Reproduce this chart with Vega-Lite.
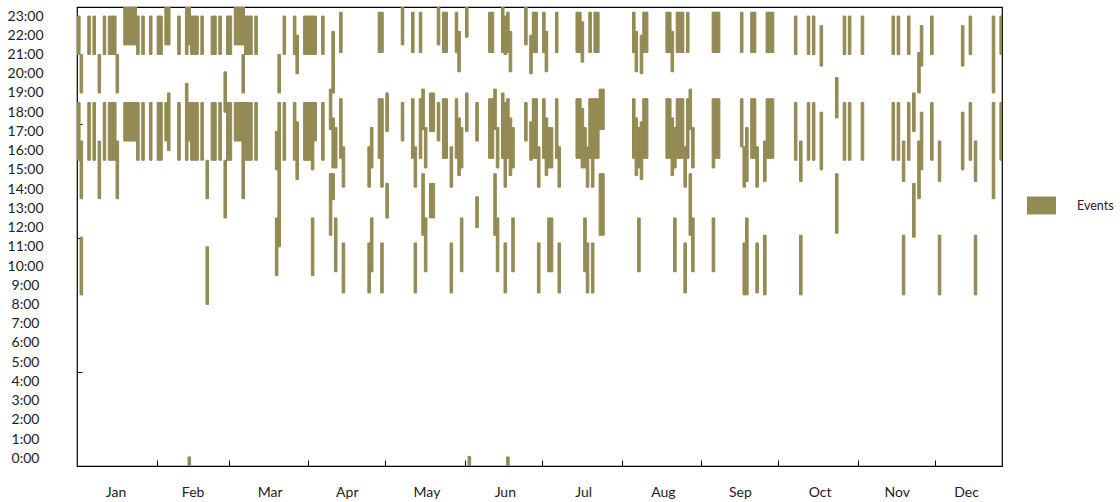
{
 "$schema": "https://vega.github.io/schema/vega-lite/v6.json",
 "width": 925, "height": 459,
 "autosize": {"type": "none"},
 "padding": {"left": 77, "top": 7, "right": 118, "bottom": 36},
 "background": "white",
 "config": {"view": {"stroke": "#000", "strokeWidth": 1.2}, "font": "Lato"},
 "datasets": {"ev": [
  {"d":0,"s":21,"e":23},{"d":0,"s":15.5,"e":18.5},
  {"d":1,"s":19,"e":21},{"d":1,"s":13.5,"e":16.5},{"d":1,"s":8.5,"e":11.5},
  {"d":4,"s":21,"e":23},{"d":4,"s":15.5,"e":18.5},
  {"d":6,"s":21,"e":23},{"d":6,"s":15.5,"e":18.5},
  {"d":8,"s":19,"e":21},{"d":8,"s":13.5,"e":16.5},
  {"d":10,"s":21,"e":23},{"d":10,"s":15.5,"e":18.5},
  {"d":12,"s":21,"e":23},{"d":12,"s":15.5,"e":18.5},
  {"d":13,"s":21,"e":23},{"d":13,"s":15.5,"e":18.5},
  {"d":14,"s":21,"e":23},{"d":14,"s":15.5,"e":18.5},
  {"d":15,"s":19,"e":21},{"d":15,"s":13.5,"e":16.5},
  {"d":18,"s":21.5,"e":24},{"d":18,"s":16.5,"e":18.5},
  {"d":19,"s":21.5,"e":24},{"d":19,"s":16.5,"e":18.5},
  {"d":20,"s":21.5,"e":24},{"d":20,"s":16.5,"e":18.5},
  {"d":21,"s":21.5,"e":24},{"d":21,"s":16.5,"e":18.5},
  {"d":22,"s":21.5,"e":24},{"d":22,"s":16.5,"e":18.5},
  {"d":23,"s":21,"e":23},{"d":23,"s":15.5,"e":18.5},
  {"d":25,"s":21,"e":23},{"d":25,"s":15.5,"e":18.5},
  {"d":28,"s":21,"e":23},{"d":28,"s":15.5,"e":18.5},
  {"d":31,"s":21,"e":23},{"d":31,"s":15.5,"e":18.5},
  {"d":32,"s":21,"e":23},{"d":32,"s":15.5,"e":18.5},
  {"d":34,"s":21.5,"e":24},{"d":34,"s":16.5,"e":18.5},
  {"d":35,"s":21.5,"e":24},{"d":35,"s":16,"e":19},
  {"d":39,"s":21,"e":23},{"d":39,"s":15.5,"e":18.5},
  {"d":42,"s":21,"e":24},{"d":42,"s":15.5,"e":19.5},
  {"d":43,"s":21.5,"e":24},{"d":43,"s":16.5,"e":18.5},{"d":43,"s":-0.5,"e":0.07},
  {"d":44,"s":21,"e":23},{"d":44,"s":15.5,"e":18.5},
  {"d":45,"s":21,"e":23},{"d":45,"s":15.5,"e":18.5},
  {"d":46,"s":21,"e":23},{"d":46,"s":15.5,"e":18.5},
  {"d":48,"s":21,"e":23},{"d":48,"s":15.5,"e":18.5},
  {"d":50,"s":13.5,"e":15.5},{"d":50,"s":8,"e":11},
  {"d":52,"s":21,"e":23},{"d":52,"s":15.5,"e":18.5},
  {"d":53,"s":21,"e":23},{"d":53,"s":15.5,"e":18.5},
  {"d":55,"s":21,"e":23},{"d":55,"s":15.5,"e":18.5},
  {"d":57,"s":18,"e":20.1},{"d":57,"s":12.5,"e":15.5},
  {"d":58,"s":21,"e":23},{"d":58,"s":15.5,"e":18.5},
  {"d":59,"s":21,"e":23},{"d":59,"s":15.5,"e":18.5},
  {"d":61,"s":21.5,"e":24},{"d":61,"s":16.5,"e":18.5},
  {"d":62,"s":21.5,"e":24},{"d":62,"s":16.5,"e":18.5},
  {"d":63,"s":21.5,"e":24},{"d":63,"s":16.5,"e":18.5},
  {"d":64,"s":21.5,"e":24},{"d":64,"s":19,"e":21},{"d":64,"s":13.5,"e":18.5},
  {"d":65,"s":21,"e":23},{"d":65,"s":15.5,"e":18.5},
  {"d":66,"s":21,"e":23},{"d":66,"s":15.5,"e":18.5},
  {"d":67,"s":21,"e":23},{"d":67,"s":15.5,"e":18.5},
  {"d":69,"s":21,"e":23},{"d":69,"s":15.5,"e":18.5},
  {"d":77,"s":15,"e":17},{"d":77,"s":9.5,"e":12.5},
  {"d":78,"s":19,"e":21},{"d":78,"s":11,"e":18.5},
  {"d":80,"s":21,"e":23},{"d":80,"s":15.5,"e":18.5},
  {"d":84,"s":21,"e":23},{"d":84,"s":15.5,"e":18.5},
  {"d":85,"s":20,"e":22},{"d":85,"s":14.5,"e":17.5},
  {"d":88,"s":21,"e":23},{"d":88,"s":15.5,"e":18.5},
  {"d":89,"s":21,"e":23},{"d":89,"s":15.5,"e":18.5},
  {"d":90,"s":21,"e":23},{"d":90,"s":15.5,"e":18.5},
  {"d":91,"s":21,"e":23},{"d":91,"s":15,"e":18.5},{"d":91,"s":9.5,"e":12.5},
  {"d":92,"s":21,"e":23},{"d":92,"s":16.5,"e":18.5},
  {"d":95,"s":21,"e":23},{"d":95,"s":15.5,"e":18.5},
  {"d":98,"s":17.1,"e":19.2},{"d":98,"s":11.6,"e":14.8},
  {"d":99,"s":19,"e":22.2},{"d":99,"s":15.1,"e":17.7},{"d":99,"s":13.45,"e":14.8},
  {"d":100,"s":15.1,"e":17.2},{"d":100,"s":9.7,"e":12.5},
  {"d":102,"s":21.1,"e":23.2},{"d":102,"s":15.6,"e":18.7},
  {"d":103,"s":14.1,"e":16.2},{"d":103,"s":8.6,"e":11.2},
  {"d":113,"s":14.1,"e":16.2},{"d":113,"s":8.6,"e":11.2},
  {"d":114,"s":15.1,"e":17.2},{"d":114,"s":9.7,"e":12.5},
  {"d":117,"s":21.1,"e":23.2},{"d":117,"s":15.6,"e":18.7},
  {"d":118,"s":21.1,"e":23.2},{"d":118,"s":14.1,"e":18.7},{"d":118,"s":8.6,"e":11.2},
  {"d":120,"s":17,"e":19},{"d":120,"s":12.5,"e":14.3},
  {"d":126,"s":21.5,"e":24},{"d":126,"s":16.5,"e":18.5},
  {"d":130,"s":21.1,"e":23.2},{"d":130,"s":15.6,"e":18.7},
  {"d":131,"s":14.1,"e":16.2},{"d":131,"s":8.6,"e":11.2},
  {"d":133,"s":21.1,"e":23.2},{"d":133,"s":15.6,"e":18.7},
  {"d":134,"s":17.1,"e":19.2},{"d":134,"s":11.6,"e":14.8},
  {"d":135,"s":15.1,"e":17.2},{"d":135,"s":9.7,"e":12.5},
  {"d":137,"s":17,"e":19},{"d":137,"s":12.5,"e":14.3},
  {"d":138,"s":17,"e":19},{"d":138,"s":12.5,"e":14.3},
  {"d":140,"s":21.5,"e":24},{"d":140,"s":16.5,"e":18.5},
  {"d":142,"s":21.1,"e":23.2},{"d":142,"s":15.6,"e":18.7},
  {"d":143,"s":21.1,"e":23.2},{"d":143,"s":15.6,"e":18.7},
  {"d":145,"s":14.1,"e":16.2},{"d":145,"s":8.6,"e":11.2},
  {"d":147,"s":21.1,"e":23.2},{"d":147,"s":15.6,"e":18.7},
  {"d":148,"s":20.1,"e":22.2},{"d":148,"s":14.7,"e":17.7},
  {"d":149,"s":15.1,"e":17.2},{"d":149,"s":9.7,"e":12.5},
  {"d":151,"s":21.9,"e":24},{"d":151,"s":17,"e":19},
  {"d":152,"s":-0.5,"e":0.1},
  {"d":155,"s":16.5,"e":18.5},{"d":155,"s":12,"e":13.6},
  {"d":160,"s":21.1,"e":23.2},{"d":160,"s":15.6,"e":18.7},
  {"d":161,"s":21.1,"e":23.2},{"d":161,"s":15.6,"e":18.7},
  {"d":162,"s":17.1,"e":19.2},{"d":162,"s":11.6,"e":14.8},
  {"d":163,"s":15.1,"e":17.2},{"d":163,"s":9.7,"e":12.5},
  {"d":165,"s":21.1,"e":24},{"d":165,"s":15.6,"e":19},
  {"d":166,"s":21,"e":23},{"d":166,"s":14.1,"e":18.5},{"d":166,"s":8.6,"e":11.2},
  {"d":167,"s":21.1,"e":23.2},{"d":167,"s":15.6,"e":18.7},{"d":167,"s":-0.5,"e":0.07},
  {"d":168,"s":20.1,"e":22.2},{"d":168,"s":14.7,"e":17.7},
  {"d":169,"s":15.1,"e":17.2},{"d":169,"s":9.7,"e":12.5},
  {"d":174,"s":21.5,"e":24},{"d":174,"s":16.5,"e":18.5},
  {"d":176,"s":20,"e":22},{"d":176,"s":15.5,"e":17.5},
  {"d":177,"s":21.1,"e":23.2},{"d":177,"s":15.6,"e":18.7},
  {"d":178,"s":21.1,"e":23.2},{"d":178,"s":15.6,"e":18.7},
  {"d":179,"s":14.1,"e":16.2},{"d":179,"s":8.6,"e":11.2},
  {"d":181,"s":21.1,"e":23.2},{"d":181,"s":15.6,"e":18.7},
  {"d":182,"s":20.1,"e":22.2},{"d":182,"s":14.7,"e":17.7},
  {"d":183,"s":15.1,"e":17.2},{"d":183,"s":9.7,"e":12.5},
  {"d":184,"s":15.1,"e":17.2},{"d":184,"s":9.7,"e":12.5},
  {"d":186,"s":21.1,"e":23.2},{"d":186,"s":15.6,"e":18.7},
  {"d":187,"s":14.1,"e":16.2},{"d":187,"s":8.6,"e":11.2},
  {"d":194,"s":21.1,"e":23.2},{"d":194,"s":15.6,"e":18.7},
  {"d":195,"s":21.1,"e":23.2},{"d":195,"s":15.6,"e":18.7},
  {"d":196,"s":20.6,"e":22.7},{"d":196,"s":15.1,"e":18.2},
  {"d":197,"s":15.1,"e":17.2},{"d":197,"s":9.7,"e":12.5},
  {"d":198,"s":14.1,"e":16.2},{"d":198,"s":8.6,"e":11.2},
  {"d":199,"s":21.1,"e":23.2},{"d":199,"s":15.6,"e":18.7},
  {"d":200,"s":14.1,"e":18.7},{"d":200,"s":8.6,"e":11.2},
  {"d":201,"s":21.1,"e":23.2},{"d":201,"s":15.6,"e":18.7},
  {"d":202,"s":21.1,"e":23.2},{"d":202,"s":15.6,"e":18.7},
  {"d":203,"s":17.1,"e":19.2},{"d":203,"s":11.6,"e":14.8},
  {"d":204,"s":17.1,"e":19.2},{"d":204,"s":11.6,"e":14.8},
  {"d":216,"s":21.1,"e":23.2},{"d":216,"s":15.6,"e":18.7},
  {"d":217,"s":20.1,"e":22.2},{"d":217,"s":14.7,"e":17.7},
  {"d":218,"s":15.1,"e":17.2},{"d":218,"s":9.7,"e":12.5},
  {"d":219,"s":20,"e":22},{"d":219,"s":14.5,"e":17.5},
  {"d":220,"s":21.1,"e":23.2},{"d":220,"s":15.6,"e":18.7},
  {"d":221,"s":21.1,"e":23.2},{"d":221,"s":15.6,"e":18.7},
  {"d":229,"s":21.1,"e":23.2},{"d":229,"s":15.6,"e":18.7},
  {"d":230,"s":21.1,"e":23.2},{"d":230,"s":15.6,"e":18.7},
  {"d":231,"s":20.1,"e":22.2},{"d":231,"s":14.7,"e":17.7},
  {"d":232,"s":15.1,"e":17.2},{"d":232,"s":9.7,"e":12.5},
  {"d":233,"s":21.1,"e":23.2},{"d":233,"s":15.6,"e":18.7},
  {"d":234,"s":21.1,"e":23.2},{"d":234,"s":15.6,"e":18.7},
  {"d":235,"s":21.1,"e":23.2},{"d":235,"s":15.6,"e":18.7},
  {"d":236,"s":14.1,"e":16.2},{"d":236,"s":8.6,"e":11.2},
  {"d":237,"s":21.1,"e":23.2},{"d":237,"s":15.6,"e":18.7},
  {"d":238,"s":17.1,"e":19.2},{"d":238,"s":11.6,"e":14.8},
  {"d":239,"s":15.1,"e":17.2},{"d":239,"s":9.7,"e":12.5},
  {"d":247,"s":21.1,"e":23.2},{"d":247,"s":15.1,"e":18.7},{"d":247,"s":9.7,"e":12.5},
  {"d":248,"s":21.1,"e":23.2},{"d":248,"s":15.6,"e":18.7},
  {"d":249,"s":21.1,"e":23.2},{"d":249,"s":15.6,"e":18.7},
  {"d":258,"s":21.1,"e":23.2},{"d":258,"s":16.2,"e":18.7},
  {"d":259,"s":14.1,"e":16.2},{"d":259,"s":8.5,"e":11.2},
  {"d":260,"s":14.4,"e":17.2},{"d":260,"s":8.5,"e":12.5},
  {"d":262,"s":21.1,"e":23.2},{"d":262,"s":15.6,"e":18.7},
  {"d":263,"s":21.1,"e":23.2},{"d":263,"s":15.6,"e":18.7},
  {"d":264,"s":14.1,"e":16.2},{"d":264,"s":8.6,"e":11.2},
  {"d":267,"s":14.4,"e":16.5},{"d":267,"s":8.5,"e":11.6},
  {"d":268,"s":21.1,"e":23.2},{"d":268,"s":15.6,"e":18.7},
  {"d":269,"s":21.1,"e":23.2},{"d":269,"s":15.6,"e":18.7},
  {"d":270,"s":21.1,"e":23.2},{"d":270,"s":15.6,"e":18.7},
  {"d":279,"s":21,"e":23},{"d":279,"s":15.5,"e":18.5},
  {"d":281,"s":14.4,"e":16.5},{"d":281,"s":8.5,"e":11.6},
  {"d":284,"s":21,"e":23},{"d":284,"s":15.5,"e":18.5},
  {"d":286,"s":21,"e":23},{"d":286,"s":15.5,"e":18.5},
  {"d":289,"s":20.4,"e":22.5},{"d":289,"s":15,"e":18},
  {"d":295,"s":17.7,"e":19.8},{"d":295,"s":11.7,"e":14.8},
  {"d":298,"s":21,"e":23},{"d":298,"s":15.5,"e":18.5},
  {"d":300,"s":21,"e":23},{"d":300,"s":15.5,"e":18.5},
  {"d":305,"s":21,"e":23},{"d":305,"s":15.5,"e":18.5},
  {"d":317,"s":21,"e":23},{"d":317,"s":15.5,"e":18.5},
  {"d":319,"s":21,"e":23},{"d":319,"s":15.5,"e":18.5},
  {"d":321,"s":14.4,"e":16.5},{"d":321,"s":8.5,"e":11.6},
  {"d":323,"s":21,"e":23},{"d":323,"s":15.5,"e":18.5},
  {"d":325,"s":17,"e":19},{"d":325,"s":11.5,"e":14.3},
  {"d":327,"s":19,"e":21.1},{"d":327,"s":13.5,"e":16.5},
  {"d":328,"s":20.4,"e":22.5},{"d":328,"s":15,"e":18},
  {"d":332,"s":21,"e":23},{"d":332,"s":15.5,"e":18.5},
  {"d":335,"s":14.4,"e":16.5},{"d":335,"s":8.5,"e":11.6},
  {"d":344,"s":20.4,"e":22.5},{"d":344,"s":15,"e":18},
  {"d":347,"s":21,"e":23},{"d":347,"s":15.5,"e":18.5},
  {"d":349,"s":14.4,"e":16.5},{"d":349,"s":8.5,"e":11.6},
  {"d":356,"s":19,"e":23},{"d":356,"s":13.5,"e":18.5},
  {"d":359,"s":21,"e":23},{"d":359,"s":15.5,"e":18.5}
 ]},
 "layer": [
  {
   "data": {"name": "ev"},
   "mark": {"type": "bar", "clip": true, "binSpacing": 0, "stroke": "#948A54", "strokeWidth": 1},
   "encoding": {
    "x": {"field": "d", "type": "quantitative", "bin": {"step": 1, "extent": [0, 360]},
      "scale": {"domain": [0, 360], "nice": false, "zero": false},
      "axis": {"values": [15, 45, 75, 105, 136, 166.5, 197, 228, 258, 289, 319, 346],
        "labelExpr": "['Jan','Feb','Mar','Apr','May','Jun','Jul','Aug','Sep','Oct','Nov','Dec'][floor(datum.value/30.4)]",
        "ticks": false, "tickSize": 0, "domain": false, "grid": false, "title": null,
        "labelFontSize": 14, "labelFont": "Lato", "labelColor": "#222", "labelPadding": 26,
        "labelBaseline": "middle", "labelFlush": false, "labelOverlap": false, "orient": "bottom"}},
    "y": {"field": "s", "type": "quantitative",
      "scale": {"domain": [-0.4, 23.47], "nice": false, "zero": false},
      "axis": {"values": [0,1,2,3,4,5,6,7,8,9,10,11,12,13,14,15,16,17,18,19,20,21,22,23],
        "labelExpr": "datum.value + ':00'", "ticks": false, "tickSize": 0, "domain": false, "grid": false,
        "title": null, "labelAlign": "center", "labelPadding": 52, "labelFontSize": 14, "labelFont": "Lato",
        "labelColor": "#222", "labelBaseline": "middle", "labelFlush": false, "labelOverlap": false, "orient": "left"}},
    "y2": {"field": "e"},
    "color": {"datum": "Events", "type": "nominal", "scale": {"range": ["#948A54"]},
      "legend": {"title": null, "orient": "none", "legendX": 950, "legendY": 184, "padding": 0,
        "symbolType": "M-1,-0.62H1V0.62H-1Z", "symbolSize": 841, "symbolStrokeWidth": 0,
        "symbolFillColor": "#948A54", "symbolOpacity": 1,
        "labelFont": "Lato", "labelFontSize": 12.5, "labelColor": "#222", "labelOffset": 21}}
   }
  },
  {
   "data": {"values": [{"d": 0, "s": 0}]},
   "mark": {"type": "point", "opacity": 0},
   "encoding": {
    "x": {"field": "d", "type": "quantitative",
      "axis": {"values": [31, 59, 90, 120, 151, 181, 212, 243, 273, 304, 334], "labels": false,
        "ticks": true, "tickSize": -6, "tickColor": "#000", "tickWidth": 1, "domain": false,
        "grid": false, "title": null, "orient": "bottom"}},
    "y": {"field": "s", "type": "quantitative",
      "axis": {"values": [4.49, 11.46, 17.38], "labels": false, "ticks": true, "tickSize": -5,
        "tickColor": "#000", "tickWidth": 1, "domain": false, "grid": false, "title": null, "orient": "left"}}
   }
  }
 ],
 "resolve": {"axis": {"x": "independent", "y": "independent"}}
}
